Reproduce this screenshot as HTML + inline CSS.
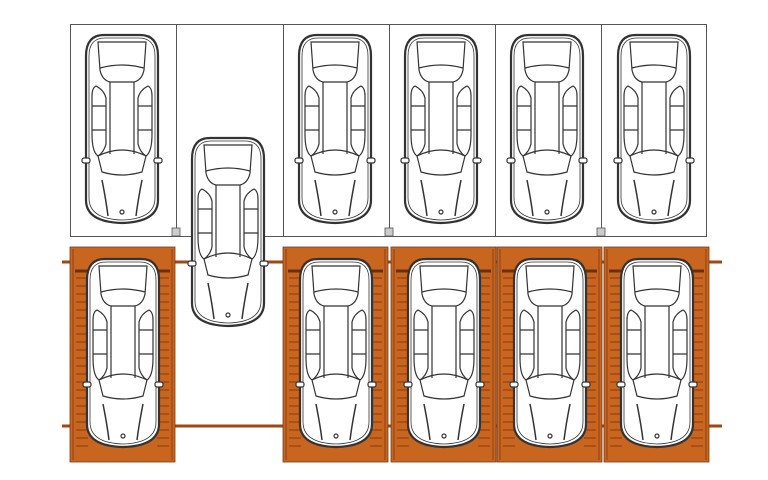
<!DOCTYPE html>
<html><head><style>
html,body{margin:0;padding:0;background:#fff;width:768px;height:480px;overflow:hidden}
</style></head><body>
<svg width="768" height="480" viewBox="0 0 768 480" xmlns="http://www.w3.org/2000/svg">
<defs>
<g id="car" fill="none" stroke="#333" stroke-width="1.2">
  <path d="M20,1 H56 Q74,1 74,22 V166 Q74,188 38,189 Q2,188 2,166 V22 Q2,1 20,1 Z" fill="#fff" stroke-width="2.2"/>
  <path d="M21,4 H55 Q71,4 71,22 V164 Q71,185 38,186 Q5,185 5,164 V22 Q5,4 21,4 Z" stroke-width="0.8"/>
  <path d="M14,8 H62 L60,36 Q58,46 50,48 H26 Q18,46 16,36 Z"/>
  <path d="M16,34 Q38,28 60,34"/>
  <path d="M26,48 V120 M50,48 V120"/>
  <path d="M12,52 Q20,56 22,64 V110 Q20,118 14,122 Q8,118 8,100 V62 Q8,54 12,52 Z"/>
  <path d="M64,52 Q56,56 54,64 V110 Q56,118 62,122 Q68,118 68,100 V62 Q68,54 64,52 Z"/>
  <path d="M8,72 H22 M8,96 H22 M54,72 H68 M54,96 H68"/>
  <path d="M14,122 Q26,116 38,116 Q50,116 62,122 L58,138 Q38,144 18,138 Z"/>
  <rect x="-2" y="124" width="8" height="5" rx="2" fill="#fff"/>
  <rect x="70" y="124" width="8" height="5" rx="2" fill="#fff"/>
  <path d="M18,146 Q22,166 24,182 M58,146 Q54,166 52,182" stroke-width="1.5"/>
  <circle cx="38" cy="178" r="2"/>
</g>
<pattern id="slat" width="10" height="8" patternUnits="userSpaceOnUse">
  <rect width="10" height="8" fill="#c8651f"/>
  <line x1="0" y1="7" x2="10" y2="7" stroke="#8a3c10" stroke-width="1"/>
</pattern>
<g id="pal">
  <rect x="0" y="0" width="105" height="215" fill="#c8651f" stroke="#7a3a12" stroke-width="0.8"/>
  <rect x="6" y="20" width="12" height="185" fill="url(#slat)"/>
  <rect x="87" y="20" width="12" height="185" fill="url(#slat)"/>
  <line x1="3" y1="2" x2="3" y2="213" stroke="#7a3a12" stroke-width="0.8"/>
  <line x1="102" y1="2" x2="102" y2="213" stroke="#7a3a12" stroke-width="0.8"/>
  <line x1="5" y1="24" x2="100" y2="24" stroke="#6a300c" stroke-width="3"/>
</g>
</defs>
<!-- top grid -->
<g fill="none" stroke="#555" stroke-width="1">
  <rect x="70.5" y="24.5" width="636" height="212"/>
  <line x1="176.5" y1="24" x2="176.5" y2="236"/>
  <line x1="283.5" y1="24" x2="283.5" y2="236"/>
  <line x1="389.5" y1="24" x2="389.5" y2="236"/>
  <line x1="495.5" y1="24" x2="495.5" y2="236"/>
  <line x1="601.5" y1="24" x2="601.5" y2="236"/>
</g>
<g fill="#ccc" stroke="#555" stroke-width="0.8">
  <rect x="172" y="228" width="8" height="8"/>
  <rect x="385" y="228" width="8" height="8"/>
  <rect x="597" y="228" width="8" height="8"/>
</g>
<!-- rails -->
<line x1="62" y1="262" x2="722" y2="262" stroke="#9b4a16" stroke-width="3"/>
<line x1="62" y1="426" x2="722" y2="426" stroke="#9b4a16" stroke-width="3"/>
<!-- pallets -->
<use href="#pal" x="70" y="247"/>
<use href="#pal" x="283" y="247"/>
<use href="#pal" x="391" y="247"/>
<use href="#pal" x="497" y="247"/>
<use href="#pal" x="604" y="247"/>
<!-- top cars -->
<use href="#car" x="84" y="34"/>
<use href="#car" x="297" y="34"/>
<use href="#car" x="403" y="34"/>
<use href="#car" x="509" y="34"/>
<use href="#car" x="616" y="34"/>
<!-- moving car -->
<use href="#car" x="190" y="137"/>
<!-- bottom cars -->
<use href="#car" x="85" y="258"/>
<use href="#car" x="298" y="258"/>
<use href="#car" x="406" y="258"/>
<use href="#car" x="512" y="258"/>
<use href="#car" x="619" y="258"/>
</svg>
</body></html>
